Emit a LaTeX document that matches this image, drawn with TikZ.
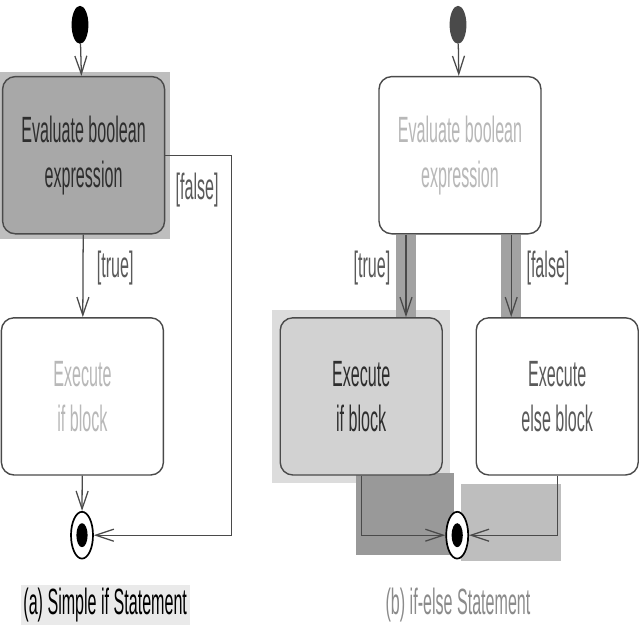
\documentclass[tikz,border=0pt]{standalone}
\usepackage{fontspec}
\setmainfont{Liberation Sans}[FakeStretch=0.44]
\usepackage{tikz}
\usetikzlibrary{arrows.meta, positioning, shapes.geometric, fit, backgrounds}
\usepackage{xcolor}
\definecolor{cLine}{HTML}{4A4A4A}
\definecolor{cText}{HTML}{2E2E2E}
\definecolor{cFaint}{HTML}{B8B8B8}
\definecolor{cGuard}{HTML}{5A5A5A}
\definecolor{cEvalA}{HTML}{A8A8A8}
\definecolor{cIfB}{HTML}{D2D2D2}
\definecolor{hlDark}{HTML}{999999}
\definecolor{hlMid}{HTML}{BEBEBE}
\definecolor{hlLight}{HTML}{DCDCDC}
\definecolor{hlBar}{HTML}{A2A2A2}

\begin{document}
\begin{tikzpicture}[
    >={Straight Barb[length=4.5mm,width=3mm]},
    action/.style={
        rectangle, rounded corners=9pt, draw=cLine, fill=#1,
        line width=1pt, minimum width=4.05cm, minimum height=3.93cm,
        font=\fontsize{26}{32}\selectfont, align=center, text=cText
    },
    action/.default=white,
    initnode/.style={
        ellipse, fill=#1, inner sep=0pt,
        minimum width=0.42cm, minimum height=0.95cm
    },
    initnode/.default=black,
    endnode/.style={
        ellipse, draw=black, line width=1.2pt, fill=white, inner sep=0pt,
        minimum width=0.55cm, minimum height=1.17cm,
        path picture={\fill[black] (path picture bounding box.center)
            ellipse (0.14cm and 0.3cm);}
    },
    guard/.style={font=\fontsize{26}{32}\selectfont, text=cGuard},
    caption/.style={font=\fontsize{26}{32}\selectfont, text=#1},
    flow/.style={->, line width=0.9pt, draw=cLine},
]
\useasboundingbox (0,0) rectangle (16,-16);

% (a) Simple if statement
\node[initnode] (initA) at (2.0,-0.62) {};
\node[action=cEvalA] (evalA) at (2.09,-3.88) {Evaluate boolean\\expression};
\node[action, text=cFaint] (execA) at (2.06,-9.91) {Execute\\if block};
\node[endnode] (finalA) at (2.05,-13.38) {};
\coordinate (falseA) at (5.78,-13.38);
\node[guard] (trueLblA)  at (2.88,-6.7)  {[true]};
\node[guard] (falseLblA) at (4.93,-4.75) {[false]};
\node[caption=black, fill=hlLight!60, inner sep=2pt] (capA) at (2.63,-15.13)
    {(a) Simple if Statement};

% (b) if-else statement
\node[initnode=cLine] (initB) at (11.45,-0.62) {};
\node[action, text=cFaint] (evalB) at (11.5,-3.88) {Evaluate boolean\\expression};
\node[action=cIfB] (ifB)   at (9.03,-9.91)  {Execute\\if block};
\node[action, text=cGuard] (elseB) at (13.93,-9.91) {Execute\\else block};
\node[endnode] (finalB) at (11.43,-13.38) {};
\coordinate (trueX)  at (10.15,0);
\coordinate (falseX) at (12.78,0);
\node[guard] (trueLblB)  at (9.3,-6.7)  {[true]};
\node[guard] (falseLblB) at (13.7,-6.7) {[false]};
\node[caption=cGuard!70] (capB) at (11.45,-15.13) {(b) if-else Statement};

% Background highlights
\begin{scope}[on background layer]
    \node[fit=(evalA), inner sep=3pt, fill=hlMid] (hlEvalA) {};
    \node[fit=(ifB), inner sep=5pt, fill=hlLight] (hlIfB) {};
    \node[fit=(ifB.south)(finalB.south west), inner xsep=4pt,
          inner ysep=2pt, fill=hlDark] (hlMergeL) {};
    \node[fit=(finalB.south east)(elseB.south), inner xsep=3pt,
          inner ysep=0pt, yshift=-6pt, fill=hlMid] (hlMergeR) {};
    \node[fit=(evalB.south -| trueX)(ifB.north -| trueX), inner xsep=7pt,
          inner ysep=0pt, fill=hlBar] (hlTrueB) {};
    \node[fit=(evalB.south -| falseX)(elseB.north -| falseX), inner xsep=7pt,
          inner ysep=0pt, fill=hlBar] (hlFalseB) {};
\end{scope}

% Arrows (a)
\draw[flow] (initA) -- (evalA);
\draw[flow] (evalA) -- (execA);
\draw[flow] (execA) -- (finalA);
\draw[flow] (evalA.east) -| (falseA) -- (finalA.east);

% Arrows (b)
\draw[flow] (initB) -- (evalB);
\draw[flow] (evalB.south -| trueX)  -- (ifB.north -| trueX);
\draw[flow] (evalB.south -| falseX) -- (elseB.north -| falseX);
\draw[flow] (ifB.south)   |- (finalB.west);
\draw[flow] (elseB.south) |- (finalB.east);

\end{tikzpicture}
\end{document}
